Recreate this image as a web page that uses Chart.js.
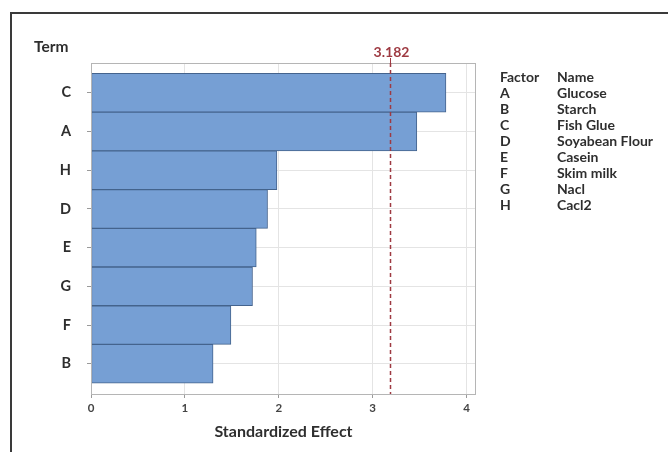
<!DOCTYPE html>
<html>
<head>
<meta charset="utf-8">
<script src="https://cdn.jsdelivr.net/npm/chart.js@4"></script>
<style>
  html, body { margin: 0; padding: 0; background: #fff; }
  #wrap { position: relative; width: 668px; height: 452px; }
</style>
</head>
<body>
<div id="wrap"><canvas id="chart" width="668" height="452"></canvas></div>
<script>
// Pareto chart of standardized effects
const terms = ["C", "A", "H", "D", "E", "G", "F", "B"];
const effects = [3.78, 3.47, 1.98, 1.88, 1.76, 1.72, 1.49, 1.30];
const xTicks = [0, 1, 2, 3, 4];
const threshold = 3.182;

const factorCodes = ["A", "B", "C", "D", "E", "F", "G", "H"];
const factorNames = ["Glucose", "Starch", "Fish Glue", "Soyabean Flour", "Casein", "Skim milk", "Nacl", "Cacl2"];

const FONT = "Lato, 'Open Sans', sans-serif";
const TEXT = "#2e2e2e";

const extras = {
  id: "extras",
  beforeDraw(chart) {
    const { ctx } = chart;
    ctx.save();
    // outer border of the figure
    ctx.strokeStyle = "#3a3a3a";
    ctx.lineWidth = 2;
    ctx.beginPath();
    ctx.moveTo(11, 460);
    ctx.lineTo(11, 13);
    ctx.lineTo(680, 13);
    ctx.stroke();
    ctx.restore();
  },
  afterDraw(chart) {
    const { ctx, chartArea: a, scales } = chart;
    ctx.save();
    // plot frame
    ctx.strokeStyle = "#b5b5b5";
    ctx.lineWidth = 1;
    ctx.strokeRect(a.left + 0.5, a.top + 0.5, a.right - a.left - 1, a.bottom - a.top);

    // reference line
    const rx = Math.round(scales.x.getPixelForValue(threshold)) + 0.5;
    ctx.strokeStyle = "#9e3a42";
    ctx.lineWidth = 1.5;
    ctx.setLineDash([4, 3]);
    ctx.beginPath();
    ctx.moveTo(rx, a.top);
    ctx.lineTo(rx, a.bottom);
    ctx.stroke();
    ctx.setLineDash([]);
    ctx.lineWidth = 1;
    ctx.beginPath();
    ctx.moveTo(rx, a.top - 5);
    ctx.lineTo(rx, a.top);
    ctx.stroke();
    ctx.fillStyle = "#9e3a42";
    ctx.font = "bold 14px " + FONT;
    ctx.textAlign = "center";
    ctx.textBaseline = "middle";
    ctx.fillText(threshold.toFixed(3), rx + 1, 52);

    // "Term" heading
    ctx.fillStyle = TEXT;
    ctx.font = "bold 15.5px " + FONT;
    ctx.textAlign = "left";
    ctx.fillText("Term", 34, 47);

    // factor table
    ctx.font = "bold 14px " + FONT;
    ctx.fillText("Factor", 500, 77);
    ctx.fillText("Name", 557, 77);
    factorCodes.forEach((c, i) => {
      const y = 93 + i * 16;
      ctx.fillText(c, 500, y);
      ctx.fillText(factorNames[i], 557, y);
    });
    ctx.restore();
  }
};

new Chart(document.getElementById("chart"), {
  type: "bar",
  data: {
    datasets: [{
      data: effects.map((v, i) => ({ x: v, y: i })),
      backgroundColor: "#769fd4",
      borderColor: "#44638d",
      borderWidth: 1,
      borderSkipped: false,
      barPercentage: 1,
      categoryPercentage: 1
    }]
  },
  options: {
    indexAxis: "y",
    responsive: false,
    animation: false,
    layout: { padding: { left: 0, right: 192, top: 63, bottom: 0 } },
    plugins: { legend: { display: false }, tooltip: { enabled: false } },
    scales: {
      x: {
        type: "linear",
        min: 0,
        max: 4.1,
        afterFit: (s) => { s.height = 58; },
        afterBuildTicks: (s) => { s.ticks = xTicks.map((v) => ({ value: v })); },
        grid: { color: "#e4e4e4", tickColor: "#9a9a9a", tickLength: 4 },
        border: { display: false },
        ticks: {
          color: "#444",
          padding: 3,
          font: { family: FONT, size: 11.5, weight: "bold" }
        },
        title: {
          display: true,
          text: "Standardized Effect",
          color: TEXT,
          font: { family: FONT, size: 16, weight: "bold" },
          padding: { top: 4, bottom: 11 }
        }
      },
      y: {
        type: "linear",
        reverse: true,
        offset: false,
        min: -0.77,
        max: 7.78,
        afterFit: (s) => { s.width = 91; },
        afterBuildTicks: (s) => { s.ticks = terms.map((t, i) => ({ value: i })); },
        grid: { offset: false, color: "#e4e4e4", tickColor: "#9a9a9a", tickLength: 4 },
        border: { display: false },
        ticks: {
          color: TEXT,
          padding: 16,
          font: { family: FONT, size: 14.5, weight: "bold" },
          callback: (v) => terms[v]
        }
      }
    }
  },
  plugins: [extras]
});
</script>
</body>
</html>
